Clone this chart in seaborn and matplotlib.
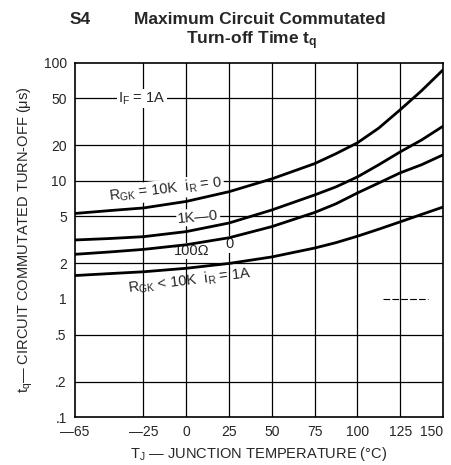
import numpy as np
import pandas as pd
import matplotlib
matplotlib.use("Agg")
import matplotlib.pyplot as plt
import seaborn as sns

# --- DATI ---
temps = [-65, -45, -25, 0, 25, 50, 75, 87.5, 100, 112.5, 125, 137.5, 150]
tq_10k_ir0 = [5.3, 5.6, 5.9, 6.7, 8.1, 10.4, 14.0, 17.0, 21, 28, 40, 58, 87]
tq_1k_ir0 = [3.16, 3.25, 3.37, 3.72, 4.4, 5.67, 7.6, 8.9, 10.8, 13.7, 17.6, 22.2, 29]
tq_100_ir0 = [2.39, 2.5, 2.63, 2.88, 3.3, 4.1, 5.4, 6.4, 7.9, 9.6, 11.7, 13.7, 16.6]
tq_lt10k_ir1a = [1.58, 1.64, 1.70, 1.82, 2.0, 2.27, 2.7, 3.0, 3.4, 3.9, 4.5, 5.2, 6.0]
series_names = ["10K", "1K", "100", "<10K"]

x_ticks = [-65, -25, 0, 25, 50, 75, 100, 125, 150]
x_labels = ["\u201465", "\u201425", "0", "25", "50", "75", "100", "125", "150"]
y_ticks = [100, 50, 20, 10, 5, 2, 1, 0.5, 0.2, 0.1]
y_labels = ["100", "50", "20", "10", "5", "2", "1", ".5", ".2", ".1"]
grid_y = [50, 20, 10, 5, 2, 0.5, 0.2]

df = pd.DataFrame({
    "T": temps * 4,
    "tq": tq_10k_ir0 + tq_1k_ir0 + tq_100_ir0 + tq_lt10k_ir1a,
    "curve": [n for n in series_names for _ in temps],
})

# --- STILE ---
sns.set_style("white")
plt.rcParams["font.family"] = ["Liberation Sans", "DejaVu Sans"]
plt.rcParams["mathtext.fontset"] = "custom"
plt.rcParams["mathtext.rm"] = "Liberation Sans"
plt.rcParams["mathtext.it"] = "Liberation Sans"
plt.rcParams["mathtext.bf"] = "Liberation Sans:bold"

fig = plt.figure(figsize=(4.52, 4.65), dpi=100)
ax = fig.add_axes([0.166, 0.103, 0.814, 0.762])

# griglia
for gy in grid_y:
    ax.axhline(gy, color="black", lw=0.9, zorder=1)
for gx in x_ticks[1:-1]:
    ax.axvline(gx, color="black", lw=0.9, zorder=1)
ax.plot([115, 141], [1, 1], color="black", lw=0.8, ls=(0, (6, 2)), zorder=1)

sns.lineplot(data=df, x="T", y="tq", hue="curve", palette=["black"] * 4,
             linewidth=2.0, legend=False, ax=ax, zorder=5)

ax.set_yscale("log")
ax.set_xlim(-65, 150)
ax.set_ylim(0.1, 100)
ax.set_xticks(x_ticks)
ax.set_xticklabels(x_labels, fontsize=10)
ax.get_xticklabels()[-1].set_horizontalalignment("right")
ax.set_yticks(y_ticks)
ax.set_yticklabels(y_labels, fontsize=10)
ax.minorticks_off()
ax.tick_params(length=0, pad=6)
for s in ax.spines.values():
    s.set_color("black")
    s.set_linewidth(1.2)

ax.set_xlabel("T$_\\mathregular{J}$ \u2014 JUNCTION TEMPERATURE (\u00b0C)", fontsize=10.5, labelpad=4)
ax.set_ylabel("t$_\\mathregular{q}$\u2014 CIRCUIT COMMUTATED TURN-OFF (\u03bcs)", fontsize=10.5, labelpad=6)

# --- ETICHETTE ---
box = dict(facecolor="white", edgecolor="none", pad=1)
ax.text(-26, 50, "I$_\\mathregular{F}$ = 1A", fontsize=10.5, ha="center", va="center", bbox=box, zorder=4)
ax.text(-12, 8.4, "R$_\\mathregular{GK}$ = 10K  i$_\\mathregular{R}$ = 0", fontsize=10.5,
        ha="center", va="center", rotation=7, bbox=box, zorder=4)
ax.text(7, 4.97, "1K\u20140", fontsize=10.5, ha="center", va="center", rotation=5, bbox=box, zorder=4)
ax.text(3, 2.55, "100\u03a9", fontsize=10.5, ha="center", va="center", bbox=box, zorder=4)
ax.text(25, 2.9, "0", fontsize=10.5, ha="center", va="center", bbox=box, zorder=4)
ax.text(2, 1.42, "R$_\\mathregular{GK}$ < 10K  i$_\\mathregular{R}$ = 1A", fontsize=10.5,
        ha="center", va="center", rotation=7, zorder=4)

fig.text(0.177, 0.958, "S4", fontsize=12.5, fontweight="bold", ha="center", va="center")
fig.text(0.575, 0.958, "Maximum Circuit Commutated", fontsize=12.5, fontweight="bold",
         ha="center", va="center")
fig.text(0.557, 0.912, "Turn-off Time t$_\\mathbf{q}$", fontsize=12.5, fontweight="bold",
         ha="center", va="center")

fig.savefig("out.png", dpi=100)
